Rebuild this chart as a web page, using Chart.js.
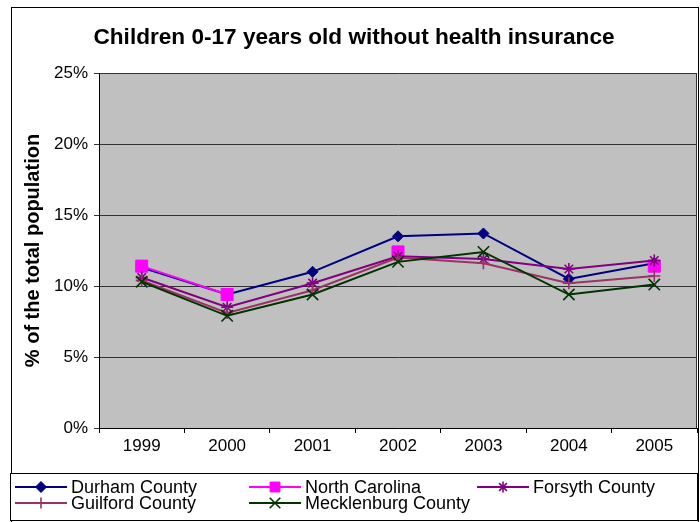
<!DOCTYPE html>
<html>
<head>
<meta charset="utf-8">
<script src="https://cdn.jsdelivr.net/npm/chart.js@4.4.1/dist/chart.umd.min.js"></script>
<style>
  html, body { margin: 0; padding: 0; background: #fff; }
  #wrap { width: 700px; height: 522px; position: relative; }
</style>
</head>
<body>
<div id="wrap"><canvas id="c" width="700" height="522"></canvas></div>
<script>
// Share of children 0-17 without health insurance, in percent
const years = ['1999', '2000', '2001', '2002', '2003', '2004', '2005'];
const durham = [11.3, 9.4, 11.0, 13.5, 13.7, 10.5, 11.6];
const northCarolina = [11.4, 9.4, null, 12.4, null, null, 11.4];
const forsyth = [10.6, 8.5, 10.2, 12.1, 11.9, 11.2, 11.8];
const guilford = [10.4, 8.1, 9.7, 12.0, 11.6, 10.2, 10.7];
const mecklenburg = [10.3, 7.9, 9.4, 11.7, 12.4, 9.4, 10.1];
const yTicks = [0, 5, 10, 15, 20, 25];

const FONT = "'Liberation Sans', Arial, Helvetica, sans-serif";

function series(label, data, color, style, radius, legendRadius, order) {
  const filled = style === 'rect' || style === 'rectRot';
  return {
    label, data, order, legendRadius,
    borderColor: color,
    backgroundColor: color,
    borderWidth: 2,
    pointStyle: style,
    pointRadius: radius,
    pointHoverRadius: radius,
    pointBorderWidth: filled ? 1 : 1.6,
    pointBackgroundColor: color,
    pointBorderColor: color,
    spanGaps: false,
    tension: 0
  };
}

// Frame, grey plot area and the boxed legend
const frame = {
  id: 'frame',
  beforeDraw(chart) {
    const { ctx, chartArea: a } = chart;
    ctx.save();
    ctx.fillStyle = '#fff';
    ctx.fillRect(0, 0, chart.width, chart.height);
    ctx.strokeStyle = '#000';
    ctx.lineWidth = 1;
    ctx.strokeRect(11.5, 7.5, 687, 540);
    ctx.fillStyle = '#c0c0c0';
    ctx.fillRect(a.left, a.top, a.right - a.left, a.bottom - a.top);
    ctx.restore();
  },
  beforeDatasetsDraw(chart) {
    const { ctx, chartArea: a } = chart;
    ctx.save();
    ctx.strokeStyle = '#333';
    ctx.lineWidth = 1;
    ctx.beginPath();
    ctx.moveTo(Math.round(a.right) - 0.5, a.top);
    ctx.lineTo(Math.round(a.right) - 0.5, a.bottom);
    ctx.stroke();
    ctx.restore();
  },
  afterDraw(chart) {
    const { ctx } = chart;
    ctx.save();
    ctx.fillStyle = '#fff';
    ctx.fillRect(10.5, 473.5, 687, 47);
    ctx.strokeStyle = '#000';
    ctx.lineWidth = 1;
    ctx.strokeRect(10.5, 473.5, 687, 47);
    const cols = [15, 249, 477];
    const rows = [487, 503];
    chart.data.datasets.forEach((ds, i) => {
      const x = cols[i % 3];
      const y = rows[Math.floor(i / 3)];
      ctx.strokeStyle = ds.borderColor;
      ctx.lineWidth = 2;
      ctx.beginPath();
      ctx.moveTo(x, y);
      ctx.lineTo(x + 52, y);
      ctx.stroke();
      ctx.fillStyle = ds.pointBackgroundColor;
      ctx.strokeStyle = ds.pointBorderColor;
      ctx.lineWidth = ds.pointBorderWidth;
      Chart.helpers.drawPoint(ctx, {
        pointStyle: ds.pointStyle,
        radius: ds.legendRadius,
        borderWidth: ds.pointBorderWidth,
        rotation: 0
      }, x + 26, y);
      ctx.fillStyle = '#000';
      ctx.font = '18px ' + FONT;
      ctx.textAlign = 'left';
      ctx.textBaseline = 'middle';
      ctx.fillText(ds.label, x + 56, y + 1);
    });
    ctx.restore();
  }
};

new Chart(document.getElementById('c'), {
  type: 'line',
  data: {
    labels: years,
    datasets: [
      series('Durham County', durham, '#000080', 'rectRot', 5.5, 5.5, 5),
      series('North Carolina', northCarolina, '#ff00ff', 'rect', 8.5, 7, 4),
      series('Forsyth County', forsyth, '#800080', 'star', 6, 5.5, 3),
      series('Guilford County', guilford, '#993366', 'cross', 6, 5.5, 2),
      series('Mecklenburg County', mecklenburg, '#003300', 'crossRot', 8, 7.5, 1)
    ]
  },
  options: {
    responsive: false,
    animation: false,
    events: [],
    layout: { autoPadding: false, padding: { left: 11, right: 3, top: 0, bottom: 48 } },
    plugins: {
      legend: { display: false },
      tooltip: { enabled: false },
      title: {
        display: true,
        text: 'Children 0-17 years old without health insurance',
        color: '#000',
        font: { family: FONT, size: 22.6, weight: 'bold' },
        padding: { top: 24, bottom: 21.9 }
      }
    },
    scales: {
      x: {
        type: 'category',
        offset: true,
        grid: { offset: true, drawOnChartArea: false, tickLength: 5, color: '#000' },
        border: { color: '#000', width: 1 },
        ticks: { color: '#000', font: { family: FONT, size: 17 }, padding: 3, maxRotation: 0 },
        afterFit(s) { s.height = 46; s.paddingLeft = 0; s.paddingRight = 0; }
      },
      y: {
        min: 0,
        max: 25,
        afterBuildTicks(s) { s.ticks = yTicks.map(v => ({ value: v })); },
        ticks: { color: '#000', font: { family: FONT, size: 17 }, padding: 6, callback: v => v + '%' },
        grid: { color: '#333', tickLength: 5 },
        border: { color: '#000', width: 1 },
        title: {
          display: true,
          text: '% of the total population',
          color: '#000',
          font: { family: FONT, size: 20, weight: 'bold' },
          padding: { top: 10, bottom: 0 }
        },
        afterFit(s) { s.width = 88; s.paddingTop = 0; s.paddingBottom = 0; }
      }
    }
  },
  plugins: [frame]
});
</script>
</body>
</html>
